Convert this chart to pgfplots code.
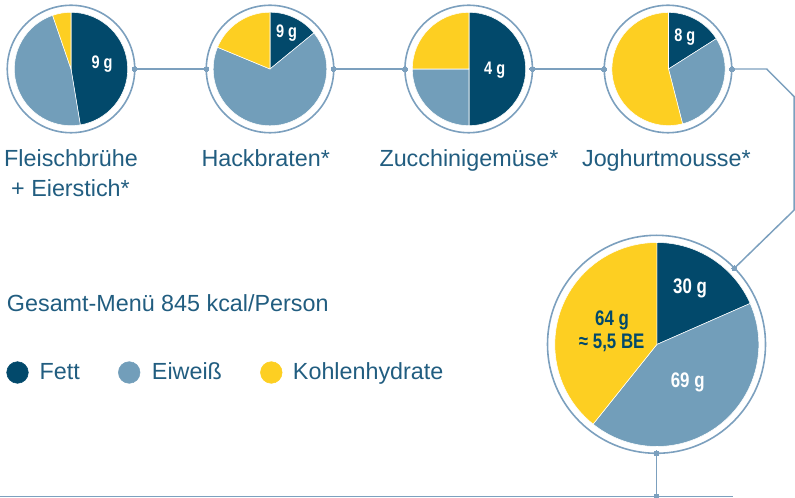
\documentclass[border=0pt]{standalone}
\usepackage{pgfplots}
\pgfplotsset{compat=1.18}
\usepackage{pgfplotstable}
\usepackage{fontspec}
\setmainfont{Liberation Sans}
\newfontfamily\cond[FakeStretch=0.8]{Liberation Sans}

\definecolor{fettc}{RGB}{2,73,107}
\definecolor{eiwc}{RGB}{114,158,186}
\definecolor{khc}{RGB}{253,207,34}
\definecolor{ringc}{RGB}{124,160,190}
\definecolor{txtc}{RGB}{33,93,128}

% pie data: centre (px), radius (px), grams of fat, protein, carbohydrates
\pgfplotstableread{
name cx cy r fett eiw kh
Fleisch 71 69 56.7 9 9 1
Hack 270 69 56.8 9 43 12
Zucchini 469 69 56.7 4 2 2
Joghurt 668.5 69 56.6 8 15 27
Gesamt 656.8 344.5 102 30 69 64
}\pies

\pgfdeclareplotmark{wedge}{%
  \pgfmathsetmacro\aA{90-(\wlo/\wtot)*360}%
  \pgfmathsetmacro\aB{90-(\whi/\wtot)*360}%
  \pgfmathsetmacro\rr{0.75*\wr}%
  \pgfpathmoveto{\pgfpointorigin}%
  \pgfpathlineto{\pgfpointpolar{\aA}{\rr pt}}%
  \pgfpatharc{\aA}{\aB}{\rr pt}%
  \pgfpathclose
  \pgfusepathqfillstroke
}

\pgfplotsset{
  wedgeplot/.style n args={3}{scatter, only marks, mark=wedge,
    scatter/use mapped color={draw=white, fill=#1}, line width=0.4pt,
    visualization depends on={#2\as\wlo},
    visualization depends on={#3\as\whi},
    visualization depends on={\thisrow{fett}+\thisrow{eiw}+\thisrow{kh}\as\wtot},
    visualization depends on={\thisrow{r}\as\wr}},
  conn/.style={ringc, line width=1.1pt, line join=round},
  dots/.style={only marks, mark=*, mark size=1.9pt, mark options={fill=ringc, draw=ringc, line width=0pt}},
}

\newcommand{\lbl}{\fontsize{17.5}{20}\selectfont\color{txtc}}
\newcommand{\sm}{\cond\bfseries\fontsize{13.6}{15}\selectfont}
\newcommand{\bg}{\cond\bfseries\fontsize{15.8}{18}\selectfont}

\begin{document}
\begin{tikzpicture}
\begin{axis}[x=0.75pt, y=0.75pt, xmin=0, xmax=795, ymin=0, ymax=498,
  y dir=reverse, hide axis, clip=false, clip marker paths=true]
  \coordinate (BBa) at (rel axis cs:0,0);
  \coordinate (BBb) at (rel axis cs:1,1);

  % rings
  \addplot[only marks, mark=o, mark size=47.8pt, mark options={draw=ringc, line width=1.2pt}]
    coordinates {(71,69) (270,69) (468.7,69) (668,69)};
  \addplot[only marks, mark=o, mark size=81.75pt, mark options={draw=ringc, line width=1.2pt}]
    coordinates {(656.5,344.3)};

  % pies
  \addplot[wedgeplot={fettc}{0}{\thisrow{fett}}] table[x=cx,y=cy] {\pies};
  \addplot[wedgeplot={eiwc}{\thisrow{fett}}{\thisrow{fett}+\thisrow{eiw}}] table[x=cx,y=cy] {\pies};
  \addplot[wedgeplot={khc}{\thisrow{fett}+\thisrow{eiw}}{\thisrow{fett}+\thisrow{eiw}+\thisrow{kh}}] table[x=cx,y=cy] {\pies};

  % connectors
  \addplot[conn] coordinates {(134.7,69) (206.3,69)};
  \addplot[conn] coordinates {(333.7,69) (405,69)};
  \addplot[conn] coordinates {(532.5,69) (604,69)};
  \addplot[conn] coordinates {(732,69) (766.7,69) (794.2,96.7) (794.2,210) (734.3,268.3)};
  \addplot[conn] coordinates {(656.5,453.3) (656.5,496.7)};
  \addplot[conn] coordinates {(0,496.7) (732.7,496.7)};
  \addplot[dots] coordinates {(134.7,69) (206.3,69) (333.7,69) (405,69) (532.5,69) (604,69)
    (732,69) (734.3,268.3) (656.5,453.3) (656.5,496.7)};

  % legend markers
  \addplot[only marks, mark=*, mark size=8.1pt, fettc] coordinates {(17.5,372.5)};
  \addplot[only marks, mark=*, mark size=8.1pt, eiwc] coordinates {(129.2,372.5)};
  \addplot[only marks, mark=*, mark size=8.1pt, khc] coordinates {(271.3,372.5)};

  % labels
  \node[anchor=base, inner sep=0pt] at (axis cs:71,167) {\lbl Fleischbrühe};
  \node[anchor=base, inner sep=0pt] at (axis cs:70.5,196.7) {\lbl + Eierstich*};
  \node[anchor=base, inner sep=0pt] at (axis cs:265.7,167) {\lbl Hackbraten*};
  \node[anchor=base, inner sep=0pt] at (axis cs:469,167) {\lbl Zucchinigemüse*};
  \node[anchor=base, inner sep=0pt] at (axis cs:666.4,167) {\lbl Joghurtmousse*};
  \node[anchor=base west, inner sep=0pt] at (axis cs:6.7,311.7) {\lbl Gesamt-Menü 845 kcal/Person};
  \node[anchor=base west, inner sep=0pt] at (axis cs:39.3,379.3) {\lbl Fett};
  \node[anchor=base west, inner sep=0pt] at (axis cs:151.7,379.3) {\lbl Eiweiß};
  \node[anchor=base west, inner sep=0pt] at (axis cs:292.7,379.3) {\lbl Kohlenhydrate};

  % values in pies
  \node[anchor=base, inner sep=0pt, white] at (axis cs:102,68.5) {\sm 9 g};
  \node[anchor=base, inner sep=0pt, white] at (axis cs:286.5,37.5) {\sm 9 g};
  \node[anchor=base, inner sep=0pt, white] at (axis cs:494.7,75) {\sm 4 g};
  \node[anchor=base, inner sep=0pt, white] at (axis cs:684.8,41.7) {\sm 8 g};
  \node[anchor=base, inner sep=0pt, white] at (axis cs:690,293.3) {\bg 30 g};
  \node[anchor=base, inner sep=0pt, white] at (axis cs:687.7,387.3) {\bg 69 g};
  \node[anchor=base, inner sep=0pt, fettc] at (axis cs:612,326) {\bg 64 g};
  \node[anchor=base, inner sep=0pt, fettc] at (axis cs:611.7,348.3) {\bg ≈ 5,5 BE};
\end{axis}
\pgfresetboundingbox
\path[use as bounding box] (BBa) rectangle (BBb);
\end{tikzpicture}
\end{document}
